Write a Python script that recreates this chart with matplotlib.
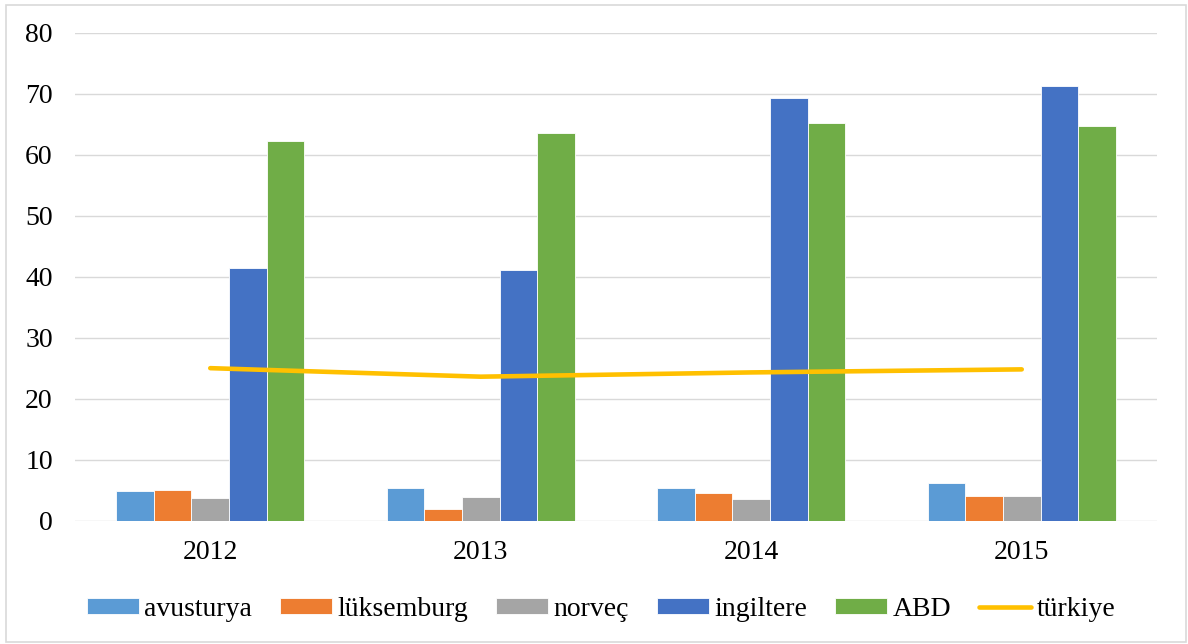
import numpy as np
from matplotlib import pyplot as plt
from matplotlib.patches import Rectangle

years = ["2012", "2013", "2014", "2015"]
avusturya = [4.8, 5.3, 5.4, 6.1]
luksemburg = [5.0, 1.9, 4.5, 4.1]
norvec = [3.7, 3.8, 3.6, 4.0]
ingiltere = [41.5, 41.1, 69.4, 71.3]
abd = [62.2, 63.6, 65.3, 64.8]
turkiye = [25.0, 23.6, 24.3, 24.8]

bar_series = [
    ("avusturya", avusturya, "#5B9BD5"),
    ("lüksemburg", luksemburg, "#ED7D31"),
    ("norveç", norvec, "#A5A5A5"),
    ("ingiltere", ingiltere, "#4472C4"),
    ("ABD", abd, "#70AD47"),
]


def graph():
    plt.rcParams['font.family'] = ['Liberation Serif', 'DejaVu Serif']

    fig = plt.figure(figsize=(11.88, 6.44), dpi=100)
    ax = fig.add_axes([75 / 1188, 1 - 520.5 / 644, 1082 / 1188, 487.5 / 644])

    x = np.arange(len(years))
    width = 0.139
    handles = []
    for i, (name, vals, color) in enumerate(bar_series):
        offset = (i - 2) * width
        b = ax.bar(x + offset, vals, width, color=color, edgecolor='white',
                   linewidth=0.6, label=name, zorder=3)
        handles.append(b)

    line, = ax.plot(x, turkiye, color="#FFC000", linewidth=3.3,
                    solid_capstyle='round', label="türkiye", zorder=4)
    handles.append(line)

    ax.set_xlim(-0.5, len(years) - 0.5)
    ax.set_ylim(0, 80)
    ax.set_yticks(range(0, 81, 10))
    ax.set_xticks(x)
    ax.set_xticklabels(years)
    ax.tick_params(axis='both', length=0, labelsize=20)
    ax.tick_params(axis='y', pad=16)
    ax.tick_params(axis='x', pad=14)
    ax.grid(axis='y', color='#D9D9D9', linewidth=1.0, zorder=0)
    for s in ax.spines.values():
        s.set_visible(False)

    fig.legend(handles=handles, loc='center', ncol=6,
               bbox_to_anchor=(601 / 1188, 1 - 609 / 644), frameon=False,
               fontsize=20, handlelength=1.87, handleheight=0.5,
               handletextpad=0.2, columnspacing=1.0)

    fig.patches.append(Rectangle((6 / 1188, 2 / 644), 1180 / 1188, 637 / 644,
                                 transform=fig.transFigure, fill=False,
                                 edgecolor='#D9D9D9', linewidth=1.2))

    fig.savefig("out.png", dpi=100)


if __name__ == "__main__":
    graph()
